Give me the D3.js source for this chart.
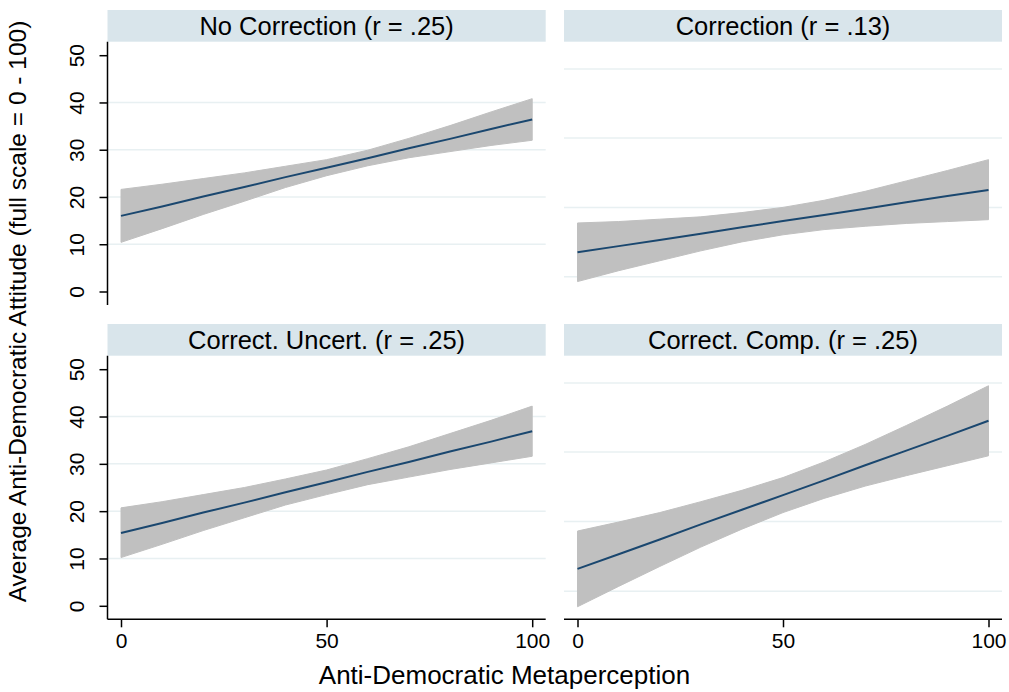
<!DOCTYPE html>
<html>
<head>
<meta charset="utf-8">
<script src="https://cdn.jsdelivr.net/npm/d3@7"></script>
<style>
  html, body { margin: 0; padding: 0; background: #fff; }
  svg { display: block; font-family: "Liberation Sans", Arial, Helvetica, sans-serif; }
</style>
</head>
<body>
<svg id="chart" width="1009" height="692"></svg>
<script>
// Predicted anti-democratic attitude by metaperception, with 95% CI, per condition
const panelTitles = [
  "No Correction (r = .25)",
  "Correction (r = .13)",
  "Correct. Uncert. (r = .25)",
  "Correct. Comp. (r = .25)"
];
const xGrid = [0, 10, 20, 30, 40, 50, 60, 70, 80, 90, 100];

const fitNoCorrection    = [16.0, 18.0, 20.1, 22.1, 24.2, 26.2, 28.2, 30.3, 32.3, 34.4, 36.4];
const lowerNoCorrection  = [10.4, 13.3, 16.3, 19.1, 22.0, 24.5, 26.6, 28.3, 29.6, 30.9, 32.0];
const upperNoCorrection  = [21.6, 22.7, 23.9, 25.1, 26.5, 27.9, 29.9, 32.4, 35.1, 38.0, 40.8];

const fitCorrection      = [8.3, 9.6, 10.9, 12.2, 13.6, 14.9, 16.2, 17.5, 18.9, 20.2, 21.5];
const lowerCorrection    = [2.1, 4.4, 6.5, 8.6, 10.5, 12.0, 13.1, 13.8, 14.4, 14.8, 15.2];
const upperCorrection    = [14.5, 14.8, 15.3, 15.8, 16.7, 17.8, 19.3, 21.2, 23.4, 25.6, 27.9];

const fitUncertain       = [15.4, 17.5, 19.7, 21.8, 24.0, 26.1, 28.3, 30.4, 32.6, 34.7, 36.9];
const lowerUncertain     = [10.2, 13.0, 15.9, 18.6, 21.3, 23.5, 25.6, 27.2, 28.8, 30.2, 31.6];
const upperUncertain     = [20.7, 22.0, 23.5, 25.0, 26.8, 28.7, 31.1, 33.6, 36.4, 39.2, 42.2];

const fitCompetent       = [7.8, 10.9, 14.0, 17.2, 20.3, 23.4, 26.5, 29.7, 32.8, 35.9, 39.1];
const lowerCompetent     = [-0.2, 4.1, 8.3, 12.4, 16.2, 19.7, 22.7, 25.3, 27.5, 29.6, 31.7];
const upperCompetent     = [15.8, 17.7, 19.7, 22.0, 24.4, 27.1, 30.4, 34.1, 38.1, 42.2, 46.5];

const yTicks = [0, 10, 20, 30, 40, 50];
const yGridLeft = [10, 20, 30, 40];
const yGridRight = [3.1, 17.8, 32.5, 47.1];
const xTicks = [0, 50, 100];
const yDomain = [0, 50];
const xDomain = [0, 100];

const xTitle = "Anti-Democratic Metaperception";
const yTitle = "Average Anti-Democratic Attitude (full scale = 0 - 100)";

// Layout of the 2x2 grid
const W = 1009, H = 692;
const colX = [[107.5, 545.7], [564, 1002]];
const rowY = [[41.7, 305], [355.7, 619.3]];
const stripH = 31.7;
const pad = 13.5;

const series = [
  { fit: fitNoCorrection, lo: lowerNoCorrection, hi: upperNoCorrection },
  { fit: fitCorrection,   lo: lowerCorrection,   hi: upperCorrection },
  { fit: fitUncertain,    lo: lowerUncertain,    hi: upperUncertain },
  { fit: fitCompetent,    lo: lowerCompetent,    hi: upperCompetent }
];

const svg = d3.select("#chart");
svg.append("rect").attr("width", W).attr("height", H).attr("fill", "#fff");

const STRIP = "#d9e5eb", GRID = "#e8f0f2", BAND = "#c0c0c0", LINE = "#1a476f";

series.forEach((s, i) => {
  const col = i % 2, row = Math.floor(i / 2);
  const [x0, x1] = colX[col];
  const [y0, y1] = rowY[row];
  const x = d3.scaleLinear().domain(xDomain).range([x0 + pad, x1 - pad]);
  const y = d3.scaleLinear().domain(yDomain).range([y1 - pad, y0 + pad]);
  const g = svg.append("g");

  // strip with title
  g.append("rect")
    .attr("x", x0).attr("y", y0 - stripH)
    .attr("width", x1 - x0).attr("height", stripH)
    .attr("fill", STRIP);
  g.append("text")
    .attr("x", (x0 + x1) / 2).attr("y", y0 - stripH / 2)
    .attr("dy", "0.36em")
    .attr("text-anchor", "middle")
    .attr("font-size", 25.5)
    .attr("fill", "#000")
    .text(panelTitles[i]);

  // gridlines
  const grid = col === 0 ? yGridLeft : yGridRight;
  g.selectAll(".grid").data(grid).join("line")
    .attr("x1", x0).attr("x2", x1)
    .attr("y1", d => y(d)).attr("y2", d => y(d))
    .attr("stroke", GRID).attr("stroke-width", 1.5);

  // confidence band
  const pts = xGrid.map((v, k) => ({ x: v, fit: s.fit[k], lo: s.lo[k], hi: s.hi[k] }));
  g.append("path").datum(pts)
    .attr("d", d3.area().x(d => x(d.x)).y0(d => y(d.lo)).y1(d => y(d.hi)))
    .attr("fill", BAND).attr("stroke", BAND).attr("stroke-width", 1).attr("stroke-linejoin", "round");

  // fitted line
  g.append("path").datum(pts)
    .attr("d", d3.line().x(d => x(d.x)).y(d => y(d.fit)))
    .attr("fill", "none").attr("stroke", LINE).attr("stroke-width", 2);

  // y axis on the left column
  if (col === 0) {
    const ay = g.append("g").attr("transform", `translate(${x0},0)`)
      .call(d3.axisLeft(y).tickValues(yTicks).tickSize(8).tickSizeOuter(0).tickPadding(10));
    ay.select(".domain").attr("d", `M0,${y0}V${y1}`).attr("stroke", "#000").attr("stroke-width", 1.5);
    ay.selectAll(".tick line").attr("stroke", "#000").attr("stroke-width", 1.5);
    ay.selectAll(".tick text")
      .attr("font-size", 21).attr("font-family", null).attr("fill", "#000")
      .attr("x", null).attr("dy", null)
      .attr("text-anchor", "middle")
      .attr("transform", "translate(-31,0) rotate(-90)")
      .attr("dy", "0.36em");
  }
  // x axis on the bottom row
  if (row === 1) {
    const ax = g.append("g").attr("transform", `translate(0,${y1})`)
      .call(d3.axisBottom(x).tickValues(xTicks).tickSize(8).tickSizeOuter(0).tickPadding(6));
    ax.select(".domain").attr("d", `M${x0},0H${x1}`).attr("stroke", "#000").attr("stroke-width", 1.5);
    ax.selectAll(".tick line").attr("stroke", "#000").attr("stroke-width", 1.5);
    ax.selectAll(".tick text").attr("font-size", 21).attr("font-family", null).attr("fill", "#000");
  }
});

// axis titles
svg.append("text")
  .attr("x", W / 2).attr("y", 684)
  .attr("text-anchor", "middle")
  .attr("font-size", 26).attr("fill", "#000")
  .text(xTitle);
svg.append("text")
  .attr("transform", "translate(26,311.5) rotate(-90)")
  .attr("text-anchor", "middle")
  .attr("font-size", 24.5).attr("fill", "#000")
  .text(yTitle);
</script>
</body>
</html>
